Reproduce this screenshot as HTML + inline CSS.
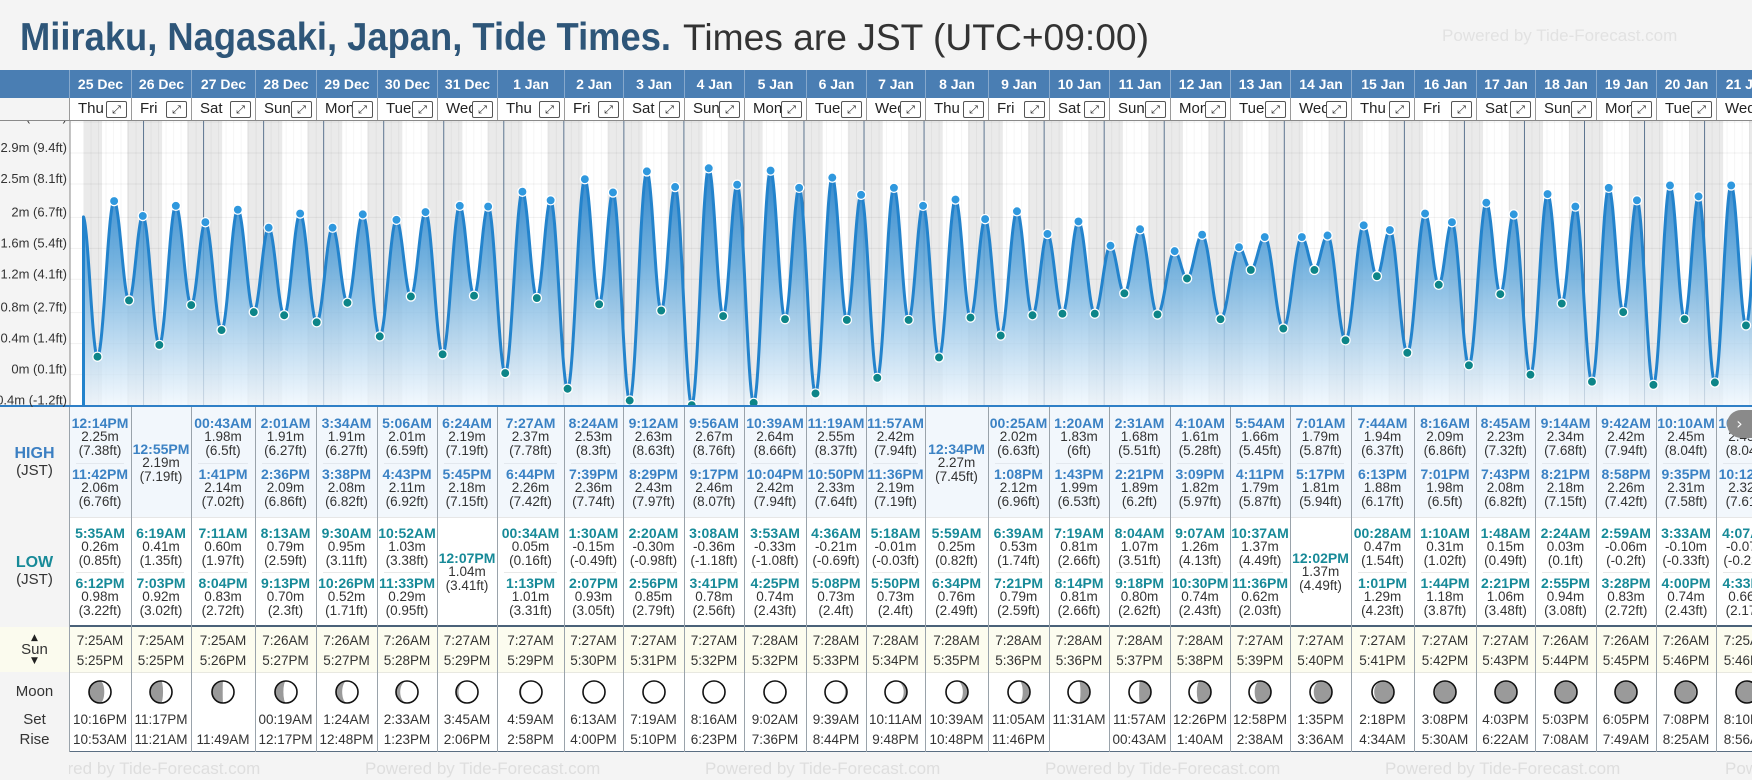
<!DOCTYPE html>
<html><head><meta charset="utf-8">
<style>
html,body{margin:0;padding:0;}
body{width:1752px;height:780px;overflow:hidden;background:#f4f4f4;position:relative;font-family:"Liberation Sans",Arial,sans-serif;}
#root{position:absolute;left:0;top:0;width:1752px;height:780px;overflow:hidden;}
.abs{position:absolute;}
.cell{position:absolute;text-align:center;white-space:nowrap;}
.ln{height:14px;line-height:14px;font-size:13.5px;color:#333;}
.th{font-weight:bold;font-size:14px;color:#3b82c4;}
.tl{font-weight:bold;font-size:14px;color:#178a98;}
</style></head>
<body>
<div id="root">
<svg class="abs" style="left:0;top:0" width="1752" height="70">
  <text x="20" y="50" font-family="Liberation Sans, sans-serif" font-weight="bold" font-size="39" fill="#2e5679" textLength="651" lengthAdjust="spacingAndGlyphs">Miiraku, Nagasaki, Japan, Tide Times.</text>
  <text x="683" y="50" font-family="Liberation Sans, sans-serif" font-size="37" fill="#333" textLength="466" lengthAdjust="spacingAndGlyphs">Times are JST (UTC+09:00)</text>
  <text x="1442" y="41" font-family="Liberation Sans, sans-serif" font-size="17" fill="#e2e2e2">Powered by Tide-Forecast.com</text>
</svg>
</div>
<script>
// ---- data ----
const dates=["25 Dec","26 Dec","27 Dec","28 Dec","29 Dec","30 Dec","31 Dec","1 Jan","2 Jan","3 Jan","4 Jan","5 Jan","6 Jan","7 Jan","8 Jan","9 Jan","10 Jan","11 Jan","12 Jan","13 Jan","14 Jan","15 Jan","16 Jan","17 Jan","18 Jan","19 Jan","20 Jan","21 Jan"];
const dayNames=["Thu","Fri","Sat","Sun","Mon","Tue","Wed","Thu","Fri","Sat","Sun","Mon","Tue","Wed","Thu","Fri","Sat","Sun","Mon","Tue","Wed","Thu","Fri","Sat","Sun","Mon","Tue","Wed"];
const highs=[
[["12:14PM","2.25m","(7.38ft)"],["11:42PM","2.06m","(6.76ft)"]],
[["12:55PM","2.19m","(7.19ft)"]],
[["00:43AM","1.98m","(6.5ft)"],["1:41PM","2.14m","(7.02ft)"]],
[["2:01AM","1.91m","(6.27ft)"],["2:36PM","2.09m","(6.86ft)"]],
[["3:34AM","1.91m","(6.27ft)"],["3:38PM","2.08m","(6.82ft)"]],
[["5:06AM","2.01m","(6.59ft)"],["4:43PM","2.11m","(6.92ft)"]],
[["6:24AM","2.19m","(7.19ft)"],["5:45PM","2.18m","(7.15ft)"]],
[["7:27AM","2.37m","(7.78ft)"],["6:44PM","2.26m","(7.42ft)"]],
[["8:24AM","2.53m","(8.3ft)"],["7:39PM","2.36m","(7.74ft)"]],
[["9:12AM","2.63m","(8.63ft)"],["8:29PM","2.43m","(7.97ft)"]],
[["9:56AM","2.67m","(8.76ft)"],["9:17PM","2.46m","(8.07ft)"]],
[["10:39AM","2.64m","(8.66ft)"],["10:04PM","2.42m","(7.94ft)"]],
[["11:19AM","2.55m","(8.37ft)"],["10:50PM","2.33m","(7.64ft)"]],
[["11:57AM","2.42m","(7.94ft)"],["11:36PM","2.19m","(7.19ft)"]],
[["12:34PM","2.27m","(7.45ft)"]],
[["00:25AM","2.02m","(6.63ft)"],["1:08PM","2.12m","(6.96ft)"]],
[["1:20AM","1.83m","(6ft)"],["1:43PM","1.99m","(6.53ft)"]],
[["2:31AM","1.68m","(5.51ft)"],["2:21PM","1.89m","(6.2ft)"]],
[["4:10AM","1.61m","(5.28ft)"],["3:09PM","1.82m","(5.97ft)"]],
[["5:54AM","1.66m","(5.45ft)"],["4:11PM","1.79m","(5.87ft)"]],
[["7:01AM","1.79m","(5.87ft)"],["5:17PM","1.81m","(5.94ft)"]],
[["7:44AM","1.94m","(6.37ft)"],["6:13PM","1.88m","(6.17ft)"]],
[["8:16AM","2.09m","(6.86ft)"],["7:01PM","1.98m","(6.5ft)"]],
[["8:45AM","2.23m","(7.32ft)"],["7:43PM","2.08m","(6.82ft)"]],
[["9:14AM","2.34m","(7.68ft)"],["8:21PM","2.18m","(7.15ft)"]],
[["9:42AM","2.42m","(7.94ft)"],["8:58PM","2.26m","(7.42ft)"]],
[["10:10AM","2.45m","(8.04ft)"],["9:35PM","2.31m","(7.58ft)"]],
[["10:38AM","2.45m","(8.04ft)"],["10:12PM","2.32m","(7.61ft)"]]];
const lows=[
[["5:35AM","0.26m","(0.85ft)"],["6:12PM","0.98m","(3.22ft)"]],
[["6:19AM","0.41m","(1.35ft)"],["7:03PM","0.92m","(3.02ft)"]],
[["7:11AM","0.60m","(1.97ft)"],["8:04PM","0.83m","(2.72ft)"]],
[["8:13AM","0.79m","(2.59ft)"],["9:13PM","0.70m","(2.3ft)"]],
[["9:30AM","0.95m","(3.11ft)"],["10:26PM","0.52m","(1.71ft)"]],
[["10:52AM","1.03m","(3.38ft)"],["11:33PM","0.29m","(0.95ft)"]],
[["12:07PM","1.04m","(3.41ft)"]],
[["00:34AM","0.05m","(0.16ft)"],["1:13PM","1.01m","(3.31ft)"]],
[["1:30AM","-0.15m","(-0.49ft)"],["2:07PM","0.93m","(3.05ft)"]],
[["2:20AM","-0.30m","(-0.98ft)"],["2:56PM","0.85m","(2.79ft)"]],
[["3:08AM","-0.36m","(-1.18ft)"],["3:41PM","0.78m","(2.56ft)"]],
[["3:53AM","-0.33m","(-1.08ft)"],["4:25PM","0.74m","(2.43ft)"]],
[["4:36AM","-0.21m","(-0.69ft)"],["5:08PM","0.73m","(2.4ft)"]],
[["5:18AM","-0.01m","(-0.03ft)"],["5:50PM","0.73m","(2.4ft)"]],
[["5:59AM","0.25m","(0.82ft)"],["6:34PM","0.76m","(2.49ft)"]],
[["6:39AM","0.53m","(1.74ft)"],["7:21PM","0.79m","(2.59ft)"]],
[["7:19AM","0.81m","(2.66ft)"],["8:14PM","0.81m","(2.66ft)"]],
[["8:04AM","1.07m","(3.51ft)"],["9:18PM","0.80m","(2.62ft)"]],
[["9:07AM","1.26m","(4.13ft)"],["10:30PM","0.74m","(2.43ft)"]],
[["10:37AM","1.37m","(4.49ft)"],["11:36PM","0.62m","(2.03ft)"]],
[["12:02PM","1.37m","(4.49ft)"]],
[["00:28AM","0.47m","(1.54ft)"],["1:01PM","1.29m","(4.23ft)"]],
[["1:10AM","0.31m","(1.02ft)"],["1:44PM","1.18m","(3.87ft)"]],
[["1:48AM","0.15m","(0.49ft)"],["2:21PM","1.06m","(3.48ft)"]],
[["2:24AM","0.03m","(0.1ft)"],["2:55PM","0.94m","(3.08ft)"]],
[["2:59AM","-0.06m","(-0.2ft)"],["3:28PM","0.83m","(2.72ft)"]],
[["3:33AM","-0.10m","(-0.33ft)"],["4:00PM","0.74m","(2.43ft)"]],
[["4:07AM","-0.07m","(-0.23ft)"],["4:33PM","0.66m","(2.17ft)"]]];
const sunrise=["7:25AM","7:25AM","7:25AM","7:26AM","7:26AM","7:26AM","7:27AM","7:27AM","7:27AM","7:27AM","7:27AM","7:28AM","7:28AM","7:28AM","7:28AM","7:28AM","7:28AM","7:28AM","7:28AM","7:27AM","7:27AM","7:27AM","7:27AM","7:27AM","7:26AM","7:26AM","7:26AM","7:25AM"];
const sunset=["5:25PM","5:25PM","5:26PM","5:27PM","5:27PM","5:28PM","5:29PM","5:29PM","5:30PM","5:31PM","5:32PM","5:32PM","5:33PM","5:34PM","5:35PM","5:36PM","5:36PM","5:37PM","5:38PM","5:39PM","5:40PM","5:41PM","5:42PM","5:43PM","5:44PM","5:45PM","5:46PM","5:46PM"];
const moonSet=["10:16PM","11:17PM","","00:19AM","1:24AM","2:33AM","3:45AM","4:59AM","6:13AM","7:19AM","8:16AM","9:02AM","9:39AM","10:11AM","10:39AM","11:05AM","11:31AM","11:57AM","12:26PM","12:58PM","1:35PM","2:18PM","3:08PM","4:03PM","5:03PM","6:05PM","7:08PM","8:10PM"];
const moonRise=["10:53AM","11:21AM","11:49AM","12:17PM","12:48PM","1:23PM","2:06PM","2:58PM","4:00PM","5:10PM","6:23PM","7:36PM","8:44PM","9:48PM","10:48PM","11:46PM","","00:43AM","1:40AM","2:38AM","3:36AM","4:34AM","5:30AM","6:22AM","7:08AM","7:49AM","8:25AM","8:56AM"];
const yTickLabels=["-0.4m (-1.2ft)","0m (0.1ft)","0.4m (1.4ft)","0.8m (2.7ft)","1.2m (4.1ft)","1.6m (5.4ft)","2m (6.7ft)","2.5m (8.1ft)","2.9m (9.4ft)","3.3m (10.7ft)"];
const yTickValues=[-0.366,0.03,0.427,0.823,1.25,1.646,2.042,2.469,2.865,3.261];
const edgeStart=[-0.3,2.06];
const edgeEnd=[27*24+22.2,2.32,27*24+28.7,0.02];

// ---- layout ----
const B=[69,131,191,255,316,377,437,497,564,623,684,744,806,866,925,988,1049,1109,1170,1230,1290,1351,1414,1476,1535,1596,1656,1716,1778];
const X0=83.5, DAYW=60.04, CT=121, CB=405;
function xS(t){return X0+t/24*DAYW;}
function yS(v){return 356.7-(v-0.26)*78.2;}
function parseT(s){const m=s.match(/(\d+):(\d+)(AM|PM)/);let h=(+m[1])%12;if(m[3]==="PM")h+=12;return h+(+m[2])/60;}
const root=document.getElementById('root');
function div(cls,style,html){const d=document.createElement('div');d.className=cls;d.setAttribute('style',style);if(html!==undefined)d.innerHTML=html;root.appendChild(d);return d;}
const NS="http://www.w3.org/2000/svg";
function sv(tag,attrs,parent){const e=document.createElementNS(NS,tag);for(const k in attrs)e.setAttribute(k,attrs[k]);parent.appendChild(e);return e;}

let hb=div('abs','left:0;top:70px;width:1752px;height:28px;background:#4a7eb3;');


let dr=div('abs','left:0;top:98px;width:1752px;height:22px;background:#fff;border-bottom:1px solid #8a8a8a;');


let dl=div('abs','left:0;top:98px;width:69px;height:22px;background:#f4f4f4;');


for(let i=0;i<28;i++){
  const L=B[i],W=B[i+1]-B[i];
  const h=div('cell',`left:${L}px;top:70px;width:${W}px;height:28px;line-height:28px;color:#fff;font-weight:bold;font-size:14px;border-left:1px solid #86a8cc;box-sizing:border-box;overflow:hidden;`,dates[i]);
  
  
  const d=div('cell',`left:${L}px;top:98px;width:${W}px;height:22px;border-left:1px solid #9a9a9a;box-sizing:border-box;text-align:left;overflow:hidden;`,'');
  
  
  const nm=document.createElement('span');nm.textContent=dayNames[i];
  nm.setAttribute('style','position:absolute;left:8px;top:2px;font-size:15px;color:#222;line-height:18px;');
  
  
  d.appendChild(nm);
  const ic=document.createElement('span');
  ic.setAttribute('style','position:absolute;right:4px;top:3px;width:19px;height:15px;border:1px solid #555;border-radius:2px;font-family:"DejaVu Sans",sans-serif;font-size:11px;line-height:15px;text-align:center;color:#222;background:#fff;');
  ic.textContent='⤢';
  
  
  d.appendChild(ic);
}

const svg=document.createElementNS(NS,'svg');
svg.setAttribute('width','1752');svg.setAttribute('height','300');
root.appendChild(svg);
svg.setAttribute('style','position:absolute;left:0;top:121px;');
svg.setAttribute('viewBox','0 121 1752 300');


const defs=sv('defs',{},svg);
const cp=sv('clipPath',{id:'cc'},defs);sv('rect',{x:70,y:CT,width:1682,height:CB-CT},cp);
const lg=sv('linearGradient',{id:'fg',x1:0,y1:150,x2:0,y2:CB,gradientUnits:'userSpaceOnUse'},defs);
sv('stop',{offset:'0','stop-color':'#1776c4','stop-opacity':'0.95'},lg);
sv('stop',{offset:'0.45','stop-color':'#5ea6da','stop-opacity':'0.85'},lg);
sv('stop',{offset:'1','stop-color':'#eef6fd','stop-opacity':'0.75'},lg);
sv('rect',{x:0,y:CT,width:70,height:CB-CT+2,fill:'#f4f4f4'},svg);
const g=sv('g',{'clip-path':'url(#cc)'},svg);
sv('rect',{x:70,y:CT,width:1682,height:CB-CT,fill:'#fff'},g);
let prevRise=parseT(sunrise[0]);
let nb=sv('rect',{x:xS(0),y:CT,width:xS(prevRise)-xS(0),height:CB-CT,fill:'#eaeaea'},g);


for(let i=0;i<28;i++){
  const s=i*24+parseT(sunset[i]);
  const r=(i+1)*24+parseT(sunrise[Math.min(i+1,27)]);
  const rc=sv('rect',{x:xS(s),y:CT,width:xS(r)-xS(s),height:CB-CT,fill:'#eaeaea'},g);
  
  
}
for(let t=3;t<28*24+6;t+=3){ if(t%24===0)continue;
  sv('line',{x1:xS(t),x2:xS(t),y1:CT,y2:CB,stroke:'#000','stroke-opacity':'0.04'},g);}
yTickValues.forEach(v=>{sv('line',{x1:70,x2:1752,y1:yS(v),y2:yS(v),stroke:'#000','stroke-opacity':'0.06'},g);});
for(let i=1;i<29;i++){const ml=sv('line',{x1:xS(i*24),x2:xS(i*24),y1:CT,y2:CB,stroke:'#5d7590','stroke-width':1},g);
  
  }
const ext=[{t:edgeStart[0],v:edgeStart[1],k:'x'}];
for(let i=0;i<28;i++){
  highs[i].forEach(e=>ext.push({t:i*24+parseT(e[0]),v:parseFloat(e[1]),k:'h'}));
  lows[i].forEach(e=>ext.push({t:i*24+parseT(e[0]),v:parseFloat(e[1]),k:'l'}));
}
ext.push({t:edgeEnd[0],v:edgeEnd[1],k:'x'});
ext.push({t:edgeEnd[2],v:edgeEnd[3],k:'x'});
ext.sort((a,b)=>a.t-b.t);
function level(t){
  for(let j=0;j<ext.length-1;j++){const a=ext[j],b=ext[j+1];
    if(t>=a.t&&t<=b.t){const u=(t-a.t)/(b.t-a.t);return a.v+(b.v-a.v)*(1-Math.cos(Math.PI*u))/2;}}
  return ext[ext.length-1].v;
}
const tEnd=(1755-X0)/DAYW*24;
let pts=[];
for(let t=0;t<=tEnd;t+=1/6)pts.push([xS(t),yS(level(t))]);
let d='M'+xS(0)+','+CB+' '+pts.map(p=>'L'+p[0].toFixed(2)+','+p[1].toFixed(2)).join(' ');
const area=sv('path',{d:d+' L'+pts[pts.length-1][0]+','+CB+' Z',fill:'url(#fg)'},g);


const line=sv('path',{d:d,fill:'none',stroke:'#2383cc','stroke-width':3,'stroke-linejoin':'round'},g);


ext.forEach(e=>{ if(e.k==='x')return;
  const c=sv('circle',{cx:xS(e.t),cy:yS(e.v),r:4.6,fill:e.k==='h'?'#2f98de':'#0d8588',stroke:'#fff','stroke-width':1.3},g);
  
  
});
sv('line',{x1:70,x2:70,y1:CT,y2:CB,stroke:'#888'},svg);
sv('rect',{x:0,y:CB,width:1752,height:2.5,fill:'#2f7fc6'},svg);
yTickValues.forEach((v,k)=>{
  const tx=sv('text',{x:67,y:yS(v)-1,'text-anchor':'end','font-size':13,'font-family':'Liberation Sans, sans-serif',fill:'#333'},svg);
  tx.textContent=yTickLabels[k];
  
  
});

let tb=div('abs','left:0;top:407px;width:1752px;height:110px;background:#f2f7fc;');


let tl=div('abs','left:0;top:517px;width:1752px;height:108px;background:#fff;border-top:1px solid #e6e6e6;box-sizing:border-box;');


let sep=div('abs','left:0;top:625px;width:1752px;height:2px;background:#4a6178;');


let sr=div('abs','left:0;top:627px;width:1752px;height:45px;background:#fcfcef;border-bottom:1px solid #e8e8e0;');


let mr=div('abs','left:0;top:673px;width:1752px;height:78px;background:#fff;border-bottom:1px solid #5a6e82;');


let lc=div('abs','left:0;top:407px;width:69px;height:345px;background:#f4f4f4;');


let lcs=div('abs','left:0;top:627px;width:69px;height:45px;background:#fbfbee;');


function label(txt,y,style,name){const e=div('cell',`left:0;width:69px;top:${y-9}px;height:18px;line-height:18px;${style}`,txt);
  
  }
label('HIGH',454,'font-weight:bold;font-size:16px;color:#3b7fc2;','high-label');
label('(JST)',471,'font-size:15px;color:#333;','high-tz-label');
label('LOW',563,'font-weight:bold;font-size:16px;color:#178a98;','low-label');
label('(JST)',580,'font-size:15px;color:#333;','low-tz-label');
label('▲',638,'font-size:9px;color:#222;font-family:DejaVu Sans,sans-serif;','sunrise-arrow');
label('Sun',650,'font-size:15px;color:#333;','sun-label');
label('▼',661,'font-size:9px;color:#222;font-family:DejaVu Sans,sans-serif;','sunset-arrow');
label('Moon',692,'font-size:15px;color:#333;','moon-label');
label('Set',720,'font-size:15px;color:#333;','moonset-label');
label('Rise',740,'font-size:15px;color:#333;','moonrise-label');

function block(e,cls,L,W,top,name){
  const b=div('cell',`left:${L}px;width:${W}px;top:${top}px;overflow:hidden;`,`<div class="ln ${cls}">${e[0]}</div><div class="ln">${e[1]}</div><div class="ln">${e[2]}</div>`);
  
  
}
function moonIcon(p){
  const r=11,cx=13,cy=13;
  const c=Math.cos(2*Math.PI*p);const rx=Math.abs(c)*r;
  let lit;
  if(p<0.5){
    lit=`M${cx},${cy-r} A${r},${r} 0 0 1 ${cx},${cy+r} A${rx},${r} 0 0 ${c>0?0:1} ${cx},${cy-r} Z`;
  } else {
    lit=`M${cx},${cy-r} A${r},${r} 0 0 0 ${cx},${cy+r} A${rx},${r} 0 0 ${c>0?1:0} ${cx},${cy-r} Z`;
  }
  return `<svg width="26" height="26"><circle cx="13" cy="13" r="11" fill="#9a9a9a"/><path d="${lit}" fill="#fff"/><circle cx="13" cy="13" r="11" fill="none" stroke="#111" stroke-width="1.6"/></svg>`;
}
for(let i=0;i<28;i++){
  const L=B[i],W=B[i+1]-B[i];
  const col=div('abs',`left:${L}px;top:407px;width:0;height:345px;border-left:1px solid #9aa3ab;`);
  
  
  if(highs[i].length===2){
    block(highs[i][0],'th',L,W,416,'high-tide-entry');
    const dv=div('abs',`left:${L+7}px;top:463px;width:${W-14}px;height:1px;background:#e3e8ee;`);
    
    
    block(highs[i][1],'th',L,W,467,'high-tide-entry');
  } else block(highs[i][0],'th',L,W,442,'high-tide-entry');
  if(lows[i].length===2){
    block(lows[i][0],'tl',L,W,526,'low-tide-entry');
    const dv=div('abs',`left:${L+7}px;top:572px;width:${W-14}px;height:1px;background:#e8e8e8;`);
    
    
    block(lows[i][1],'tl',L,W,576,'low-tide-entry');
  } else block(lows[i][0],'tl',L,W,551,'low-tide-entry');
  const s1=div('cell ln',`left:${L}px;width:${W}px;top:634px;overflow:hidden;`,sunrise[i]);
  
  
  const s2=div('cell ln',`left:${L}px;width:${W}px;top:654px;overflow:hidden;`,sunset[i]);
  
  
  const p=(((i-24)/29.5)%1+1)%1;
  const mi=div('cell',`left:${L}px;width:${W}px;top:679px;height:26px;overflow:hidden;`,moonIcon(p));
  
  
  const m1=div('cell ln',`left:${L}px;width:${W}px;top:713px;overflow:hidden;`,moonSet[i]);
  
  
  const m2=div('cell ln',`left:${L}px;width:${W}px;top:733px;overflow:hidden;`,moonRise[i]);
  
  
}
const sb=div('abs','left:1727px;top:410px;width:25px;height:28px;border-radius:14px 0 0 14px;background:#8a8a8a;color:#fff;font-size:16px;line-height:28px;text-align:center;font-family:DejaVu Sans,sans-serif;','›');


for(let x=25;x<1752;x+=340){
  const w=div('abs',`left:${x}px;top:760px;font-size:17px;color:#dedede;white-space:nowrap;line-height:18px;`,'Powered by Tide-Forecast.com');
  
  
}
const fl=div('abs','left:0;top:752px;width:69px;height:28px;background:#f4f4f4;');


</script>
</body></html>
